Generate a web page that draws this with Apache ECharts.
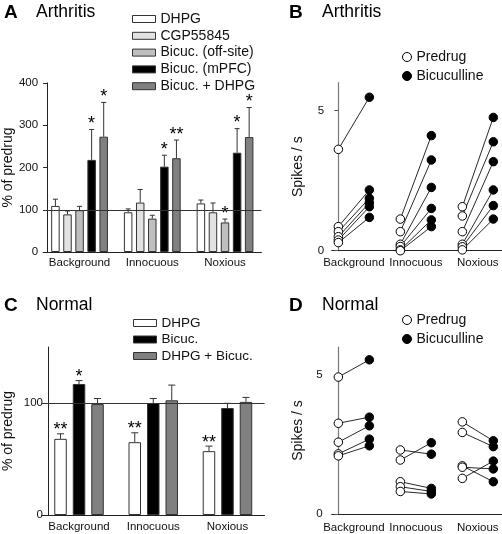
<!DOCTYPE html>
<html><head><meta charset="utf-8">
<script src="https://cdn.jsdelivr.net/npm/echarts@6/dist/echarts.min.js"></script>
<style>html,body{margin:0;padding:0;background:#fff}#c{width:502px;height:534px}</style>
</head><body><div id="c"></div>
<script>
const categories = ['Background', 'Innocuous', 'Noxious'];

// Panel A (Arthritis) — % of predrug, mean and upper error
const namesA = ['DHPG', 'CGP55845', 'Bicuc. (off-site)', 'Bicuc. (mPFC)', 'Bicuc. + DHPG'];
const aDHPG = [109, 94, 115];
const aDHPGErr = [16, 8, 8];
const aCGP = [89, 117, 94];
const aCGPErr = [8, 31, 22];
const aOffSite = [99, 79, 70];
const aOffSiteErr = [9, 8, 8];
const aMPFC = [218, 202, 235];
const aMPFCErr = [72, 27, 57];
const aBicDHPG = [273, 222, 272];
const aBicDHPGErr = [81, 43, 70];
const aStarsDHPG = ['', '', ''];
const aStarsCGP = ['', '', ''];
const aStarsOffSite = ['', '', '*'];
const aStarsMPFC = ['*', '*', '*'];
const aStarsBicDHPG = ['*', '**', '*'];
const ticksA = [0, 100, 200, 300, 400];

// Panel C (Normal)
const namesC = ['DHPG', 'Bicuc.', 'DHPG + Bicuc.'];
const cDHPG = [68, 65, 57];
const cDHPGErr = [4.5, 8.4, 4.5];
const cBic = [117, 100, 95.5];
const cBicErr = [3, 4, 4.2];
const cDHPGBic = [99, 102.4, 101];
const cDHPGBicErr = [5, 13.6, 4];
const cStarsDHPG = ['**', '**', '**'];
const cStarsBic = ['*', '', ''];
const cStarsDHPGBic = ['', '', ''];
const ticksC = [0, 100];

// Panel B (Arthritis) — spikes/s, paired predrug / bicuculline
const bPreBackground = [3.62, 0.86, 0.68, 0.50, 0.38, 0.29];
const bBicBackground = [5.48, 2.17, 1.87, 1.71, 1.57, 1.19];
const bPreInnocuous = [1.13, 0.68, 0.23, 0.15, 0.03, 0.00];
const bBicInnocuous = [4.11, 3.24, 2.26, 1.51, 1.10, 0.86];
const bPreNoxious = [1.57, 1.24, 0.68, 0.23, 0.14, 0.03];
const bBicNoxious = [4.76, 3.89, 3.18, 2.17, 1.61, 1.13];

// Panel D (Normal)
const dPreBackground = [4.92, 3.26, 2.58, 2.16, 2.09];
const dBicBackground = [5.54, 3.48, 3.17, 2.69, 2.45];
const dPreInnocuous = [2.30, 1.94, 1.16, 0.98, 0.81];
const dBicInnocuous = [2.15, 2.56, 0.92, 0.81, 0.72];
const dPreNoxious = [3.31, 2.93, 1.73, 1.68, 1.28];
const dBicNoxious = [2.63, 2.42, 1.16, 1.62, 1.90];
const ticksSpikes = [0, 5];

const FONT = 'Liberation Sans, Arial, sans-serif';
const AX = '#222';

const chart = echarts.init(document.getElementById('c'), null, {renderer: 'canvas'});

const barColorsA = ['#ffffff', '#e2e2e2', '#bfbfbf', '#000000', '#808080'];
const barColorsC = ['#ffffff', '#000000', '#808080'];

function barSeries(name, data, color, xi, yi, bw, gap) {
  return {
    type: 'bar', name, data, xAxisIndex: xi, yAxisIndex: yi,
    barWidth: bw, barGap: gap,
    itemStyle: {color, borderColor: '#333', borderWidth: 1},
    silent: true, z: 2
  };
}

function errSeries(vals, errs, stars, k, n, xi, yi, bw, gapFrac, capW, starOff) {
  const pitch = bw * (1 + gapFrac);
  return {
    type: 'custom', xAxisIndex: xi, yAxisIndex: yi, silent: true, z: 3,
    data: vals.map((v, i) => [i, v, errs[i]]),
    renderItem: function (params, api) {
      const c = api.value(0), m = api.value(1), e = api.value(2);
      const star = stars[params.dataIndex];
      const base = api.coord([c, m]);
      const top = api.coord([c, m + e]);
      const x = base[0] + (k - (n - 1) / 2) * pitch;
      const children = [
        {type: 'line', shape: {x1: x, y1: base[1], x2: x, y2: top[1]}, style: {stroke: '#333', lineWidth: 1}},
        {type: 'line', shape: {x1: x - capW / 2, y1: top[1], x2: x + capW / 2, y2: top[1]}, style: {stroke: '#333', lineWidth: 1}}
      ];
      if (star) {
        children.push({type: 'text', x: x, y: top[1] - starOff,
          style: {text: star, fill: '#000', font: '18px ' + FONT, align: 'center', verticalAlign: 'middle'}});
      }
      return {type: 'group', children};
    }
  };
}

function buildPairs(preArrs, bicArrs) {
  const lines = [], p = [], b = [];
  preArrs.forEach((pre, g) => {
    pre.forEach((v, i) => {
      lines.push([2 * g, v, 2 * g + 1, bicArrs[g][i]]);
      p.push([2 * g, v]);
      b.push([2 * g + 1, bicArrs[g][i]]);
    });
  });
  return {lines, p, b};
}

function pairPanelSeries(pairs, xi, yi) {
  return [
    {
      type: 'custom', xAxisIndex: xi, yAxisIndex: yi, silent: true, z: 2,
      data: pairs.lines,
      encode: {x: [0, 2], y: [1, 3]},
      renderItem: function (params, api) {
        const a = api.coord([api.value(0), api.value(1)]);
        const b = api.coord([api.value(2), api.value(3)]);
        return {type: 'line', shape: {x1: a[0], y1: a[1], x2: b[0], y2: b[1]}, style: {stroke: '#111', lineWidth: 0.9}};
      }
    },
    {type: 'scatter', name: 'Predrug', xAxisIndex: xi, yAxisIndex: yi, data: pairs.p, symbol: 'circle', symbolSize: 8.5,
      itemStyle: {color: '#fff', borderColor: '#000', borderWidth: 1, opacity: 1}, silent: true, z: 4},
    {type: 'scatter', name: 'Bicuculline', xAxisIndex: xi, yAxisIndex: yi, data: pairs.b, symbol: 'circle', symbolSize: 8.5,
      itemStyle: {color: '#000', borderColor: '#000', borderWidth: 1, opacity: 1}, silent: true, z: 5}
  ];
}

const pairsB = buildPairs([bPreBackground, bPreInnocuous, bPreNoxious], [bBicBackground, bBicInnocuous, bBicNoxious]);
const pairsD = buildPairs([dPreBackground, dPreInnocuous, dPreNoxious], [dBicBackground, dBicInnocuous, dBicNoxious]);

function catAxis(gi, margin) {
  return {
    type: 'category', gridIndex: gi, data: categories, boundaryGap: true,
    axisLine: {lineStyle: {color: AX, width: 1}}, axisTick: {show: false},
    axisLabel: {color: '#111', fontSize: 11.5, fontFamily: FONT, margin, interval: 0, hideOverlap: false}
  };
}
function valAxisY(gi, max, ticks, offset, nameGap, name, margin) {
  return {
    type: 'value', gridIndex: gi, min: 0, max, offset,
    name, nameLocation: 'middle', nameGap, nameRotate: 90,
    nameTextStyle: {color: '#111', fontSize: 14, fontFamily: FONT},
    axisLine: {show: true, lineStyle: {color: AX, width: 1}},
    axisTick: {show: true, length: 4, customValues: ticks, lineStyle: {color: AX}},
    axisLabel: {color: '#111', fontSize: 11.5, fontFamily: FONT, margin, customValues: ticks},
    splitLine: {show: false}
  };
}
function pairXAxis(gi, margin) {
  return {
    type: 'value', gridIndex: gi, min: -0.215, max: 5.28,
    axisLine: {show: true, onZero: false, lineStyle: {color: AX, width: 1}},
    axisTick: {show: false},
    splitLine: {show: false},
    axisLabel: {color: '#111', fontSize: 11.5, fontFamily: FONT, margin,
      customValues: [0.5, 2.5, 4.5], hideOverlap: false,
      formatter: v => categories[Math.round((v - 0.5) / 2)]}
  };
}
function pairYAxis(gi, margin) {
  return {
    type: 'value', gridIndex: gi, min: 0, max: 6,
    name: 'Spikes / s', nameLocation: 'middle', nameGap: 27, nameRotate: 90,
    nameTextStyle: {color: '#111', fontSize: 14, fontFamily: FONT},
    axisLine: {show: true, lineStyle: {color: '#777', width: 1.2}},
    axisTick: {show: true, length: 4, customValues: ticksSpikes, lineStyle: {color: '#555'}},
    axisLabel: {color: '#111', fontSize: 11.5, fontFamily: FONT, margin, customValues: ticksSpikes},
    splitLine: {show: false}
  };
}

const refLine = {silent: true, symbol: 'none', label: {show: false},
  lineStyle: {color: '#333', width: 1, type: 'solid'}, data: [{yAxis: 100}]};

const valsA = [aDHPG, aCGP, aOffSite, aMPFC, aBicDHPG];
const errsA = [aDHPGErr, aCGPErr, aOffSiteErr, aMPFCErr, aBicDHPGErr];
const starsA = [aStarsDHPG, aStarsCGP, aStarsOffSite, aStarsMPFC, aStarsBicDHPG];
const valsC = [cDHPG, cBic, cDHPGBic];
const errsC = [cDHPGErr, cBicErr, cDHPGBicErr];
const starsC = [cStarsDHPG, cStarsBic, cStarsDHPGBic];

const series = [];
const BWA = 8.5, GAPA = 0.42, BWC = 12.5, GAPC = 0.48;
valsA.forEach((v, k) => {
  const s = barSeries(namesA[k], v, barColorsA[k], 0, 0, BWA, (GAPA * 100) + '%');
  if (k === 0) s.markLine = refLine;
  series.push(s);
});
valsA.forEach((v, k) => series.push(errSeries(v, errsA[k], starsA[k], k, 5, 0, 0, BWA, GAPA, 5, 5.5)));
valsC.forEach((v, k) => {
  const s = barSeries(namesC[k], v, barColorsC[k], 1, 1, BWC, (GAPC * 100) + '%');
  if (k === 0) s.markLine = refLine;
  series.push(s);
});
valsC.forEach((v, k) => series.push(errSeries(v, errsC[k], starsC[k], k, 3, 1, 1, BWC, GAPC, 7, 3.5)));
series.push(...pairPanelSeries(pairsB, 2, 2));
series.push(...pairPanelSeries(pairsD, 3, 3));

const titleStyle = {color: '#000', fontSize: 17.5, fontFamily: FONT, fontWeight: 'normal'};
const letterStyle = {color: '#000', fontSize: 19, fontFamily: FONT, fontWeight: 'bold'};
const legendText = {fontSize: 14, color: '#111', fontFamily: FONT};

const option = {
  animation: false,
  backgroundColor: '#fff',
  textStyle: {fontFamily: FONT},
  title: [
    {text: 'A', left: 4, top: 3, padding: 0, textStyle: letterStyle},
    {text: 'Arthritis', left: 36, top: 3, padding: 0, textStyle: titleStyle},
    {text: 'B', left: 289, top: 3, padding: 0, textStyle: letterStyle},
    {text: 'Arthritis', left: 322, top: 3, padding: 0, textStyle: titleStyle},
    {text: 'C', left: 4, top: 296, padding: 0, textStyle: letterStyle},
    {text: 'Normal', left: 36, top: 296, padding: 0, textStyle: titleStyle},
    {text: 'D', left: 289, top: 296, padding: 0, textStyle: letterStyle},
    {text: 'Normal', left: 322, top: 296, padding: 0, textStyle: titleStyle}
  ],
  legend: [
    {data: namesA, orient: 'vertical', left: 132, top: 12, padding: 0, itemWidth: 23, itemHeight: 7, itemGap: 2.8,
      icon: 'rect', selectedMode: false, itemStyle: {borderWidth: 1, borderColor: '#333'}, textStyle: legendText},
    {data: namesC, orient: 'vertical', left: 133, top: 316, padding: 0, itemWidth: 23, itemHeight: 7, itemGap: 2.5,
      icon: 'rect', selectedMode: false, itemStyle: {borderWidth: 1, borderColor: '#333'},
      textStyle: {fontSize: 13.5, color: '#111', fontFamily: FONT}},
    {data: ['Predrug', 'Bicuculline'], orient: 'vertical', left: 402, top: 50, padding: 0, itemWidth: 9, itemHeight: 9, itemGap: 5,
      selectedMode: false, itemStyle: {borderWidth: 1, borderColor: '#000'}, textStyle: legendText},
    {data: ['Predrug', 'Bicuculline'], orient: 'vertical', left: 402, top: 313, padding: 0, itemWidth: 9, itemHeight: 9, itemGap: 5,
      selectedMode: false, itemStyle: {borderWidth: 1, borderColor: '#000'}, textStyle: legendText}
  ],
  grid: [
    {left: 43.1, top: 83, width: 218.3, height: 169},
    {left: 41.9, top: 347, width: 222.7, height: 168},
    {left: 331.7, top: 82.7, right: 0, height: 168},
    {left: 331.7, top: 347, right: 0, height: 167}
  ],
  xAxis: [catAxis(0, 5), catAxis(1, 6), pairXAxis(2, 6), pairXAxis(3, 8)],
  yAxis: [
    valAxisY(0, 400, ticksA, -3.9, 31, '% of predrug', 9),
    valAxisY(1, 150, ticksC, -6.1, 33, '% of predrug', 5),
    pairYAxis(2, 7.5), pairYAxis(3, 9)
  ],
  series
};
chart.setOption(option);
</script></body></html>
